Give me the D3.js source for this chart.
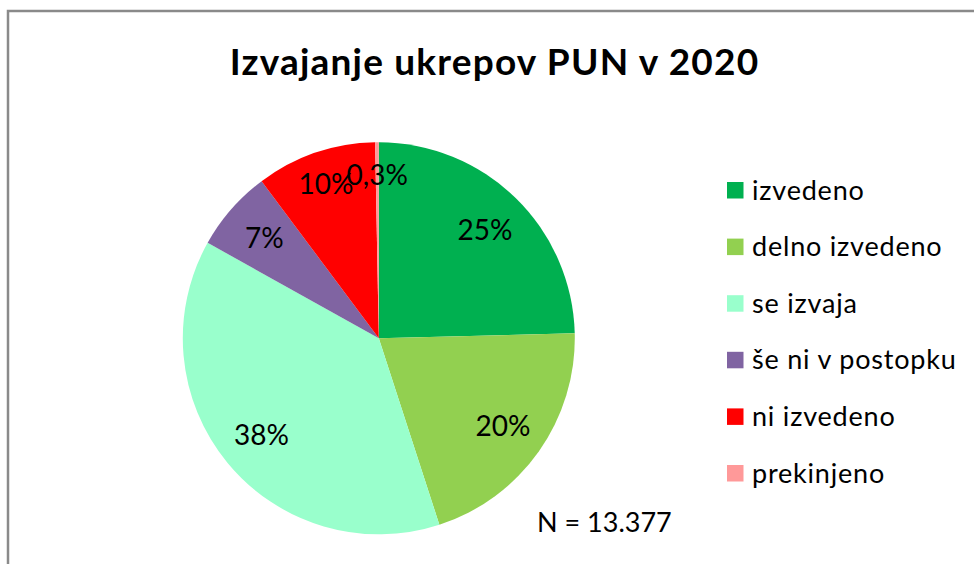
<!DOCTYPE html>
<html>
<head>
<meta charset="utf-8">
<script src="https://cdn.jsdelivr.net/npm/d3@7"></script>
<style>
  body { margin: 0; background: #fff; }
  svg { display: block; }
  text { font-family: Lato, "Open Sans", sans-serif; fill: #000; }
</style>
</head>
<body>
<script>
// data
const categories = ["izvedeno", "delno izvedeno", "se izvaja", "še ni v postopku", "ni izvedeno", "prekinjeno"];
const shares = [24.6, 20.4, 38.1, 6.7, 9.9, 0.3];
const colors = ["#00B050", "#92D050", "#99FFCC", "#8064A2", "#FF0000", "#FF9999"];
const titleText = "Izvajanje ukrepov PUN v 2020";
const noteText = "N = 13.377";

const width = 974, height = 564;
const cx = 378.8, cy = 338.3, radius = 196;

const data = categories.map((c, i) => ({name: c, value: shares[i]}));

const color = d3.scaleOrdinal().domain(categories).range(colors);

const svg = d3.select("body").append("svg")
    .attr("width", width)
    .attr("height", height);

// chart frame
svg.append("path")
    .attr("d", "M8,564 L8,11 L974,11")
    .attr("fill", "none")
    .attr("stroke", "#8a8a8a")
    .attr("stroke-width", 2.5);

// title
svg.append("text")
    .attr("x", 494.5)
    .attr("y", 75)
    .attr("text-anchor", "middle")
    .style("font-size", "37px")
    .style("font-weight", "bold")
    .style("letter-spacing", "1.2px")
    .text(titleText);

const pie = d3.pie()
    .sort(null)
    .value(function (d) { return d.value; });

const arc = d3.arc()
    .innerRadius(0)
    .outerRadius(radius);

const g = svg.append("g")
    .attr("transform", "translate(" + cx + "," + cy + ")");

const slices = g.selectAll(".arc")
    .data(pie(data))
    .enter().append("g")
    .attr("class", "arc");

slices.append("path")
    .attr("d", arc)
    .style("fill", function (d) { return color(d.data.name); });

// labels sit a bit further out for the crowded slices near the top
function labelPos(d) {
    const r = d.startAngle > 5.5 ? 163 : 152;
    return d3.arc().innerRadius(r).outerRadius(r).centroid(d);
}

slices.append("text")
    .attr("transform", function (d) { return "translate(" + labelPos(d) + ")"; })
    .attr("dy", "0.36em")
    .attr("text-anchor", "middle")
    .style("font-size", "28px")
    .text(function (d) {
        const v = d.data.value;
        return v < 1 ? String(v).replace(".", ",") + "%" : Math.round(v) + "%";
    });

// legend
const legend = svg.append("g")
    .attr("transform", "translate(727,182)");

const item = legend.selectAll(".item")
    .data(categories)
    .enter().append("g")
    .attr("class", "item")
    .attr("transform", function (d, i) { return "translate(0," + (i * 56.6) + ")"; });

item.append("rect")
    .attr("width", 16.5)
    .attr("height", 16.5)
    .style("fill", function (d) { return color(d); });

item.append("text")
    .attr("x", 25)
    .attr("y", 17.5)
    .style("font-size", "27px")
    .style("letter-spacing", "0.8px")
    .text(function (d) { return d; });

// sample size note
svg.append("text")
    .attr("x", 537)
    .attr("y", 532)
    .style("font-size", "27px")
    .text(noteText);
</script>
</body>
</html>
